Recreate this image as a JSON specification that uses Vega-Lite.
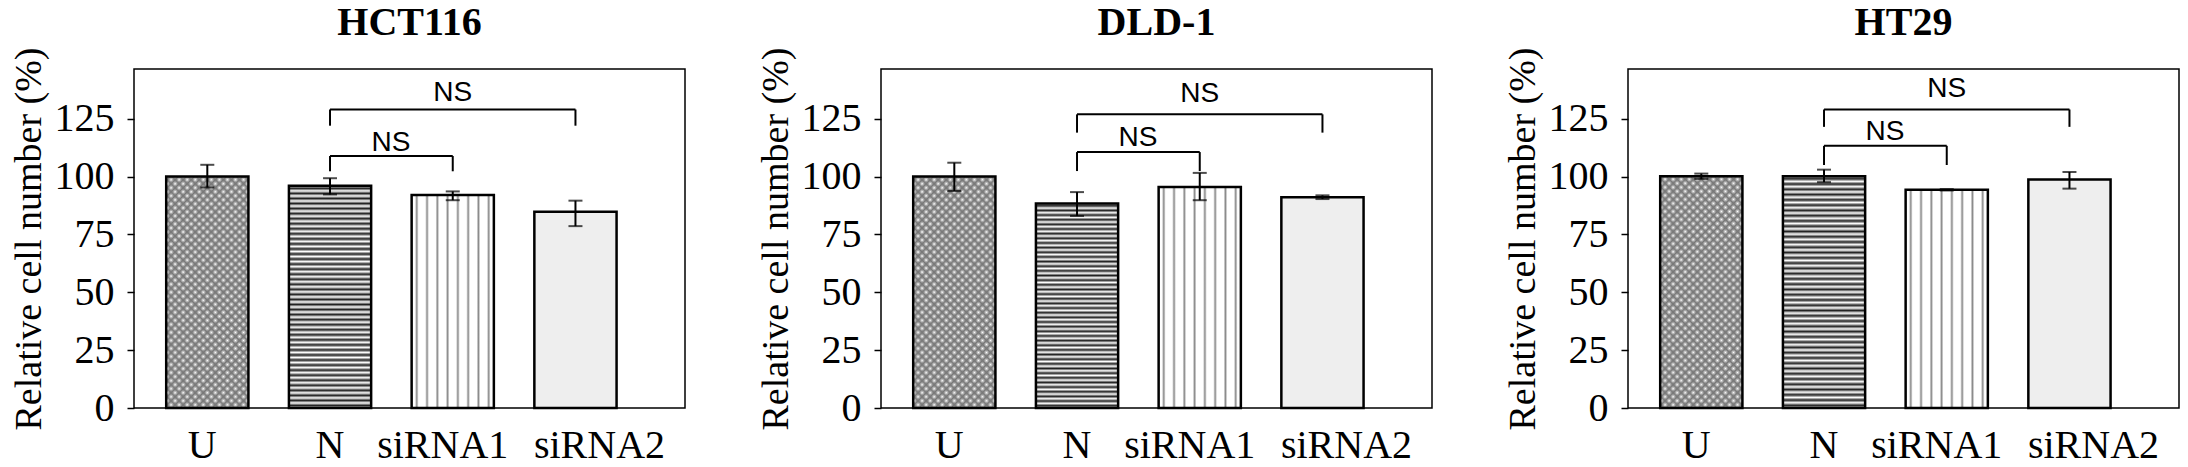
{
  "$schema": "https://vega.github.io/schema/vega-lite/v6.json",
  "padding": {"left": 9, "top": 3, "right": 5, "bottom": 0},
  "background": "white",
  "data": {"values": [
    {"kind": "bar", "cell": "HCT116", "cond": "U", "value": 100, "lo": 95.3, "hi": 105.1},
    {"kind": "bar", "cell": "HCT116", "cond": "N", "value": 96, "lo": 92.3, "hi": 99.3},
    {"kind": "bar", "cell": "HCT116", "cond": "siRNA1", "value": 92, "lo": 89.8, "hi": 93.6},
    {"kind": "bar", "cell": "HCT116", "cond": "siRNA2", "value": 84.8, "lo": 78.6, "hi": 89.6},
    {"kind": "bar", "cell": "DLD-1", "cond": "U", "value": 100, "lo": 93.8, "hi": 106},
    {"kind": "bar", "cell": "DLD-1", "cond": "N", "value": 88.4, "lo": 83, "hi": 93.3},
    {"kind": "bar", "cell": "DLD-1", "cond": "siRNA1", "value": 95.5, "lo": 89.8, "hi": 101.6},
    {"kind": "bar", "cell": "DLD-1", "cond": "siRNA2", "value": 91.1, "lo": 90.3, "hi": 91.9},
    {"kind": "bar", "cell": "HT29", "cond": "U", "value": 100.2, "lo": 99, "hi": 101.3},
    {"kind": "bar", "cell": "HT29", "cond": "N", "value": 100.2, "lo": 97.6, "hi": 103},
    {"kind": "bar", "cell": "HT29", "cond": "siRNA1", "value": 94.3, "lo": 94, "hi": 94.6},
    {"kind": "bar", "cell": "HT29", "cond": "siRNA2", "value": 98.7, "lo": 94.8, "hi": 102},
    {"kind": "br", "cell": "HCT116", "type": "long", "from": "N", "to": "siRNA2", "y": 129, "leg": 122, "label": "NS", "ly": 136.3, "at": "siRNA1"},
    {"kind": "br", "cell": "HCT116", "type": "short", "from": "N", "to": "siRNA1", "y": 108.9, "leg": 102.3, "label": "NS", "ly": 114.5, "at": "N"},
    {"kind": "br", "cell": "DLD-1", "type": "long", "from": "N", "to": "siRNA2", "y": 126.9, "leg": 119, "label": "NS", "ly": 135.7, "at": "siRNA1"},
    {"kind": "br", "cell": "DLD-1", "type": "short", "from": "N", "to": "siRNA1", "y": 110.6, "leg": 102.4, "label": "NS", "ly": 116.6, "at": "N"},
    {"kind": "br", "cell": "HT29", "type": "long", "from": "N", "to": "siRNA2", "y": 129, "leg": 121.5, "label": "NS", "ly": 137.8, "at": "siRNA1"},
    {"kind": "br", "cell": "HT29", "type": "short", "from": "N", "to": "siRNA1", "y": 113.3, "leg": 105, "label": "NS", "ly": 119.3, "at": "N"}
  ]},
  "facet": {"column": {"field": "cell", "type": "nominal", "title": null, "sort": ["HCT116", "DLD-1", "HT29"],
    "header": {"labelFont": "Liberation Serif", "labelFontSize": 40, "labelFontWeight": "bold", "labelColor": "black", "labelPadding": 3,
               "labelExpr": "datum.value === 'HCT116' ? 'HCT116\u00a0\u00a0\u00a0\u00a0\u00a0\u00a0' : (datum.value === 'DLD-1' ? '\u00a0\u00a0DLD-1' : '\u00a0\u00a0\u00a0HT29')"}}},
  "spacing": 70,
  "resolve": {"axis": {"y": "independent", "x": "independent"}},
  "spec": {
    "width": 551, "height": 339,
    "layer": [
      {"transform": [{"filter": "datum.kind === 'bar'"}],
       "mark": {"type": "bar"},
       "encoding": {
         "x": {"field": "cond", "type": "nominal", "title": null, "scale": {"domain": ["U", "N", "siRNA1", "siRNA2"], "paddingInner": 0.33, "paddingOuter": 0.41, "align": 0.32},
               "axis": {"domain": false, "grid": false, "ticks": false, "labelAngle": 0, "labelFont": "Liberation Serif", "labelFontSize": 40, "labelColor": "black", "labelPadding": 17,
                        "labelOffset": {"condition": [{"test": "datum.value === 'siRNA2'", "value": 24}, {"test": "datum.value === 'siRNA1'", "value": -10}, {"test": "datum.value === 'U'", "value": -5}], "value": 0}}},
         "y": {"field": "value", "type": "quantitative", "title": "Relative cell number (%)", "scale": {"domain": [0, 146.5], "nice": false},
               "axis": {"values": [0, 25, 50, 75, 100, 125], "domain": false, "grid": false, "tickColor": "black", "tickSize": 7, "tickWidth": 1.5,
                        "labelFont": "Liberation Serif", "labelFontSize": 40, "labelColor": "black", "labelPadding": 13,
                        "titleFont": "Liberation Serif", "titleFontSize": 38, "titleFontWeight": "normal", "titleColor": "black", "titlePadding": 6}},
         "fill": {"field": "cond", "type": "nominal", "legend": null, "scale": {"domain": ["U", "N", "siRNA1", "siRNA2"], "range": ["#ffffff", "#ffffff", "#ffffff", "#eeeeee"]}}
       }},
      {"transform": [{"filter": "datum.kind === 'bar' && datum.cond === 'U'"}],
       "mark": {"type": "bar", "fill": {"gradient": "linear", "x1": 0, "y1": 0, "x2": 0.427, "y2": 1.203, "stops": [
         {"offset":0,"color":"rgba(120,120,120,0)"},{"offset":0.01282,"color":"rgb(120,120,120)"},{"offset":0.02564,"color":"rgba(120,120,120,0)"},{"offset":0.03846,"color":"rgb(120,120,120)"},{"offset":0.05128,"color":"rgba(120,120,120,0)"},{"offset":0.0641,"color":"rgb(120,120,120)"},{"offset":0.07692,"color":"rgba(120,120,120,0)"},{"offset":0.08974,"color":"rgb(120,120,120)"},{"offset":0.10256,"color":"rgba(120,120,120,0)"},{"offset":0.11538,"color":"rgb(120,120,120)"},{"offset":0.12821,"color":"rgba(120,120,120,0)"},{"offset":0.14103,"color":"rgb(120,120,120)"},{"offset":0.15385,"color":"rgba(120,120,120,0)"},{"offset":0.16667,"color":"rgb(120,120,120)"},{"offset":0.17949,"color":"rgba(120,120,120,0)"},{"offset":0.19231,"color":"rgb(120,120,120)"},{"offset":0.20513,"color":"rgba(120,120,120,0)"},{"offset":0.21795,"color":"rgb(120,120,120)"},{"offset":0.23077,"color":"rgba(120,120,120,0)"},{"offset":0.24359,"color":"rgb(120,120,120)"},{"offset":0.25641,"color":"rgba(120,120,120,0)"},{"offset":0.26923,"color":"rgb(120,120,120)"},{"offset":0.28205,"color":"rgba(120,120,120,0)"},{"offset":0.29487,"color":"rgb(120,120,120)"},{"offset":0.30769,"color":"rgba(120,120,120,0)"},{"offset":0.32051,"color":"rgb(120,120,120)"},{"offset":0.33333,"color":"rgba(120,120,120,0)"},{"offset":0.34615,"color":"rgb(120,120,120)"},{"offset":0.35897,"color":"rgba(120,120,120,0)"},{"offset":0.37179,"color":"rgb(120,120,120)"},{"offset":0.38462,"color":"rgba(120,120,120,0)"},{"offset":0.39744,"color":"rgb(120,120,120)"},{"offset":0.41026,"color":"rgba(120,120,120,0)"},{"offset":0.42308,"color":"rgb(120,120,120)"},{"offset":0.4359,"color":"rgba(120,120,120,0)"},{"offset":0.44872,"color":"rgb(120,120,120)"},{"offset":0.46154,"color":"rgba(120,120,120,0)"},{"offset":0.47436,"color":"rgb(120,120,120)"},{"offset":0.48718,"color":"rgba(120,120,120,0)"},{"offset":0.5,"color":"rgb(120,120,120)"},{"offset":0.51282,"color":"rgba(120,120,120,0)"},{"offset":0.52564,"color":"rgb(120,120,120)"},{"offset":0.53846,"color":"rgba(120,120,120,0)"},{"offset":0.55128,"color":"rgb(120,120,120)"},{"offset":0.5641,"color":"rgba(120,120,120,0)"},{"offset":0.57692,"color":"rgb(120,120,120)"},{"offset":0.58974,"color":"rgba(120,120,120,0)"},{"offset":0.60256,"color":"rgb(120,120,120)"},{"offset":0.61538,"color":"rgba(120,120,120,0)"},{"offset":0.62821,"color":"rgb(120,120,120)"},{"offset":0.64103,"color":"rgba(120,120,120,0)"},{"offset":0.65385,"color":"rgb(120,120,120)"},{"offset":0.66667,"color":"rgba(120,120,120,0)"},{"offset":0.67949,"color":"rgb(120,120,120)"},{"offset":0.69231,"color":"rgba(120,120,120,0)"},{"offset":0.70513,"color":"rgb(120,120,120)"},{"offset":0.71795,"color":"rgba(120,120,120,0)"},{"offset":0.73077,"color":"rgb(120,120,120)"},{"offset":0.74359,"color":"rgba(120,120,120,0)"},{"offset":0.75641,"color":"rgb(120,120,120)"},{"offset":0.76923,"color":"rgba(120,120,120,0)"},{"offset":0.78205,"color":"rgb(120,120,120)"},{"offset":0.79487,"color":"rgba(120,120,120,0)"},{"offset":0.80769,"color":"rgb(120,120,120)"},{"offset":0.82051,"color":"rgba(120,120,120,0)"},{"offset":0.83333,"color":"rgb(120,120,120)"},{"offset":0.84615,"color":"rgba(120,120,120,0)"},{"offset":0.85897,"color":"rgb(120,120,120)"},{"offset":0.87179,"color":"rgba(120,120,120,0)"},{"offset":0.88462,"color":"rgb(120,120,120)"},{"offset":0.89744,"color":"rgba(120,120,120,0)"},{"offset":0.91026,"color":"rgb(120,120,120)"},{"offset":0.92308,"color":"rgba(120,120,120,0)"},{"offset":0.9359,"color":"rgb(120,120,120)"},{"offset":0.94872,"color":"rgba(120,120,120,0)"},{"offset":0.96154,"color":"rgb(120,120,120)"},{"offset":0.97436,"color":"rgba(120,120,120,0)"},{"offset":0.98718,"color":"rgb(120,120,120)"},{"offset":1,"color":"rgba(120,120,120,0)"}]}},
       "encoding": {"x": {"field": "cond", "type": "nominal"}, "y": {"field": "value", "type": "quantitative"}}},
      {"transform": [{"filter": "datum.kind === 'bar' && datum.cond === 'U'"}],
       "mark": {"type": "bar", "fill": {"gradient": "linear", "x1": 1, "y1": 0, "x2": 0.573, "y2": 1.203, "stops": [
         {"offset":0,"color":"rgba(120,120,120,0)"},{"offset":0.01282,"color":"rgb(120,120,120)"},{"offset":0.02564,"color":"rgba(120,120,120,0)"},{"offset":0.03846,"color":"rgb(120,120,120)"},{"offset":0.05128,"color":"rgba(120,120,120,0)"},{"offset":0.0641,"color":"rgb(120,120,120)"},{"offset":0.07692,"color":"rgba(120,120,120,0)"},{"offset":0.08974,"color":"rgb(120,120,120)"},{"offset":0.10256,"color":"rgba(120,120,120,0)"},{"offset":0.11538,"color":"rgb(120,120,120)"},{"offset":0.12821,"color":"rgba(120,120,120,0)"},{"offset":0.14103,"color":"rgb(120,120,120)"},{"offset":0.15385,"color":"rgba(120,120,120,0)"},{"offset":0.16667,"color":"rgb(120,120,120)"},{"offset":0.17949,"color":"rgba(120,120,120,0)"},{"offset":0.19231,"color":"rgb(120,120,120)"},{"offset":0.20513,"color":"rgba(120,120,120,0)"},{"offset":0.21795,"color":"rgb(120,120,120)"},{"offset":0.23077,"color":"rgba(120,120,120,0)"},{"offset":0.24359,"color":"rgb(120,120,120)"},{"offset":0.25641,"color":"rgba(120,120,120,0)"},{"offset":0.26923,"color":"rgb(120,120,120)"},{"offset":0.28205,"color":"rgba(120,120,120,0)"},{"offset":0.29487,"color":"rgb(120,120,120)"},{"offset":0.30769,"color":"rgba(120,120,120,0)"},{"offset":0.32051,"color":"rgb(120,120,120)"},{"offset":0.33333,"color":"rgba(120,120,120,0)"},{"offset":0.34615,"color":"rgb(120,120,120)"},{"offset":0.35897,"color":"rgba(120,120,120,0)"},{"offset":0.37179,"color":"rgb(120,120,120)"},{"offset":0.38462,"color":"rgba(120,120,120,0)"},{"offset":0.39744,"color":"rgb(120,120,120)"},{"offset":0.41026,"color":"rgba(120,120,120,0)"},{"offset":0.42308,"color":"rgb(120,120,120)"},{"offset":0.4359,"color":"rgba(120,120,120,0)"},{"offset":0.44872,"color":"rgb(120,120,120)"},{"offset":0.46154,"color":"rgba(120,120,120,0)"},{"offset":0.47436,"color":"rgb(120,120,120)"},{"offset":0.48718,"color":"rgba(120,120,120,0)"},{"offset":0.5,"color":"rgb(120,120,120)"},{"offset":0.51282,"color":"rgba(120,120,120,0)"},{"offset":0.52564,"color":"rgb(120,120,120)"},{"offset":0.53846,"color":"rgba(120,120,120,0)"},{"offset":0.55128,"color":"rgb(120,120,120)"},{"offset":0.5641,"color":"rgba(120,120,120,0)"},{"offset":0.57692,"color":"rgb(120,120,120)"},{"offset":0.58974,"color":"rgba(120,120,120,0)"},{"offset":0.60256,"color":"rgb(120,120,120)"},{"offset":0.61538,"color":"rgba(120,120,120,0)"},{"offset":0.62821,"color":"rgb(120,120,120)"},{"offset":0.64103,"color":"rgba(120,120,120,0)"},{"offset":0.65385,"color":"rgb(120,120,120)"},{"offset":0.66667,"color":"rgba(120,120,120,0)"},{"offset":0.67949,"color":"rgb(120,120,120)"},{"offset":0.69231,"color":"rgba(120,120,120,0)"},{"offset":0.70513,"color":"rgb(120,120,120)"},{"offset":0.71795,"color":"rgba(120,120,120,0)"},{"offset":0.73077,"color":"rgb(120,120,120)"},{"offset":0.74359,"color":"rgba(120,120,120,0)"},{"offset":0.75641,"color":"rgb(120,120,120)"},{"offset":0.76923,"color":"rgba(120,120,120,0)"},{"offset":0.78205,"color":"rgb(120,120,120)"},{"offset":0.79487,"color":"rgba(120,120,120,0)"},{"offset":0.80769,"color":"rgb(120,120,120)"},{"offset":0.82051,"color":"rgba(120,120,120,0)"},{"offset":0.83333,"color":"rgb(120,120,120)"},{"offset":0.84615,"color":"rgba(120,120,120,0)"},{"offset":0.85897,"color":"rgb(120,120,120)"},{"offset":0.87179,"color":"rgba(120,120,120,0)"},{"offset":0.88462,"color":"rgb(120,120,120)"},{"offset":0.89744,"color":"rgba(120,120,120,0)"},{"offset":0.91026,"color":"rgb(120,120,120)"},{"offset":0.92308,"color":"rgba(120,120,120,0)"},{"offset":0.9359,"color":"rgb(120,120,120)"},{"offset":0.94872,"color":"rgba(120,120,120,0)"},{"offset":0.96154,"color":"rgb(120,120,120)"},{"offset":0.97436,"color":"rgba(120,120,120,0)"},{"offset":0.98718,"color":"rgb(120,120,120)"},{"offset":1,"color":"rgba(120,120,120,0)"}]}},
       "encoding": {"x": {"field": "cond", "type": "nominal"}, "y": {"field": "value", "type": "quantitative"}}},
      {"transform": [{"filter": "datum.kind === 'bar' && datum.cond === 'N'"}],
       "mark": {"type": "bar", "fill": {"gradient": "linear", "x1": 0, "y1": 0, "x2": 0, "y2": 1, "stops": [
         {"offset":0,"color":"#fff"},{"offset":0.01136,"color":"#222"},{"offset":0.02273,"color":"#fff"},{"offset":0.03409,"color":"#222"},{"offset":0.04545,"color":"#fff"},{"offset":0.05682,"color":"#222"},{"offset":0.06818,"color":"#fff"},{"offset":0.07955,"color":"#222"},{"offset":0.09091,"color":"#fff"},{"offset":0.10227,"color":"#222"},{"offset":0.11364,"color":"#fff"},{"offset":0.125,"color":"#222"},{"offset":0.13636,"color":"#fff"},{"offset":0.14773,"color":"#222"},{"offset":0.15909,"color":"#fff"},{"offset":0.17045,"color":"#222"},{"offset":0.18182,"color":"#fff"},{"offset":0.19318,"color":"#222"},{"offset":0.20455,"color":"#fff"},{"offset":0.21591,"color":"#222"},{"offset":0.22727,"color":"#fff"},{"offset":0.23864,"color":"#222"},{"offset":0.25,"color":"#fff"},{"offset":0.26136,"color":"#222"},{"offset":0.27273,"color":"#fff"},{"offset":0.28409,"color":"#222"},{"offset":0.29545,"color":"#fff"},{"offset":0.30682,"color":"#222"},{"offset":0.31818,"color":"#fff"},{"offset":0.32955,"color":"#222"},{"offset":0.34091,"color":"#fff"},{"offset":0.35227,"color":"#222"},{"offset":0.36364,"color":"#fff"},{"offset":0.375,"color":"#222"},{"offset":0.38636,"color":"#fff"},{"offset":0.39773,"color":"#222"},{"offset":0.40909,"color":"#fff"},{"offset":0.42045,"color":"#222"},{"offset":0.43182,"color":"#fff"},{"offset":0.44318,"color":"#222"},{"offset":0.45455,"color":"#fff"},{"offset":0.46591,"color":"#222"},{"offset":0.47727,"color":"#fff"},{"offset":0.48864,"color":"#222"},{"offset":0.5,"color":"#fff"},{"offset":0.51136,"color":"#222"},{"offset":0.52273,"color":"#fff"},{"offset":0.53409,"color":"#222"},{"offset":0.54545,"color":"#fff"},{"offset":0.55682,"color":"#222"},{"offset":0.56818,"color":"#fff"},{"offset":0.57955,"color":"#222"},{"offset":0.59091,"color":"#fff"},{"offset":0.60227,"color":"#222"},{"offset":0.61364,"color":"#fff"},{"offset":0.625,"color":"#222"},{"offset":0.63636,"color":"#fff"},{"offset":0.64773,"color":"#222"},{"offset":0.65909,"color":"#fff"},{"offset":0.67045,"color":"#222"},{"offset":0.68182,"color":"#fff"},{"offset":0.69318,"color":"#222"},{"offset":0.70455,"color":"#fff"},{"offset":0.71591,"color":"#222"},{"offset":0.72727,"color":"#fff"},{"offset":0.73864,"color":"#222"},{"offset":0.75,"color":"#fff"},{"offset":0.76136,"color":"#222"},{"offset":0.77273,"color":"#fff"},{"offset":0.78409,"color":"#222"},{"offset":0.79545,"color":"#fff"},{"offset":0.80682,"color":"#222"},{"offset":0.81818,"color":"#fff"},{"offset":0.82955,"color":"#222"},{"offset":0.84091,"color":"#fff"},{"offset":0.85227,"color":"#222"},{"offset":0.86364,"color":"#fff"},{"offset":0.875,"color":"#222"},{"offset":0.88636,"color":"#fff"},{"offset":0.89773,"color":"#222"},{"offset":0.90909,"color":"#fff"},{"offset":0.92045,"color":"#222"},{"offset":0.93182,"color":"#fff"},{"offset":0.94318,"color":"#222"},{"offset":0.95455,"color":"#fff"},{"offset":0.96591,"color":"#222"},{"offset":0.97727,"color":"#fff"},{"offset":0.98864,"color":"#222"},{"offset":1,"color":"#fff"}]}},
       "encoding": {"x": {"field": "cond", "type": "nominal"}, "y": {"field": "value", "type": "quantitative"}}},
      {"transform": [{"filter": "datum.kind === 'bar' && datum.cond === 'siRNA1'"}],
       "mark": {"type": "bar", "fill": {"gradient": "linear", "x1": 0, "y1": 0, "x2": 1, "y2": 0, "stops": [
         {"offset":0,"color":"#fff"},
         {"offset":0.04,"color":"#fff"},{"offset":0.0625,"color":"#888"},{"offset":0.085,"color":"#fff"},
         {"offset":0.165,"color":"#fff"},{"offset":0.1875,"color":"#888"},{"offset":0.21,"color":"#fff"},
         {"offset":0.29,"color":"#fff"},{"offset":0.3125,"color":"#888"},{"offset":0.335,"color":"#fff"},
         {"offset":0.415,"color":"#fff"},{"offset":0.4375,"color":"#888"},{"offset":0.46,"color":"#fff"},
         {"offset":0.54,"color":"#fff"},{"offset":0.5625,"color":"#888"},{"offset":0.585,"color":"#fff"},
         {"offset":0.665,"color":"#fff"},{"offset":0.6875,"color":"#888"},{"offset":0.71,"color":"#fff"},
         {"offset":0.79,"color":"#fff"},{"offset":0.8125,"color":"#888"},{"offset":0.835,"color":"#fff"},
         {"offset":0.915,"color":"#fff"},{"offset":0.9375,"color":"#888"},{"offset":0.96,"color":"#fff"},
         {"offset":1,"color":"#fff"}]}},
       "encoding": {"x": {"field": "cond", "type": "nominal"}, "y": {"field": "value", "type": "quantitative"}}},
      {"transform": [{"filter": "datum.kind === 'bar'"}],
       "mark": {"type": "bar", "fill": "white", "fillOpacity": 0, "stroke": "black", "strokeWidth": 2.5},
       "encoding": {"x": {"field": "cond", "type": "nominal"}, "y": {"field": "value", "type": "quantitative"}}},
      {"transform": [{"filter": "datum.kind === 'bar'"}],
       "mark": {"type": "rule", "color": "black", "strokeWidth": 2},
       "encoding": {"x": {"field": "cond", "type": "nominal"}, "y": {"field": "lo", "type": "quantitative"}, "y2": {"field": "hi"}}},
      {"transform": [{"filter": "datum.kind === 'bar'"}],
       "mark": {"type": "tick", "color": "black", "size": 14, "thickness": 2},
       "encoding": {"x": {"field": "cond", "type": "nominal"}, "y": {"field": "lo", "type": "quantitative"}}},
      {"transform": [{"filter": "datum.kind === 'bar'"}],
       "mark": {"type": "tick", "color": "black", "size": 14, "thickness": 2},
       "encoding": {"x": {"field": "cond", "type": "nominal"}, "y": {"field": "hi", "type": "quantitative"}}},
      {"transform": [{"filter": "datum.kind === 'br'"}],
       "mark": {"type": "rule", "color": "black", "strokeWidth": 2},
       "encoding": {"x": {"field": "from", "type": "nominal"}, "x2": {"field": "to"}, "y": {"field": "y", "type": "quantitative"}}},
      {"transform": [{"filter": "datum.kind === 'br'"}],
       "mark": {"type": "rule", "color": "black", "strokeWidth": 2},
       "encoding": {"x": {"field": "from", "type": "nominal"}, "y": {"field": "leg", "type": "quantitative"}, "y2": {"field": "y"}}},
      {"transform": [{"filter": "datum.kind === 'br'"}],
       "mark": {"type": "rule", "color": "black", "strokeWidth": 2},
       "encoding": {"x": {"field": "to", "type": "nominal"}, "y": {"field": "leg", "type": "quantitative"}, "y2": {"field": "y"}}},
      {"transform": [{"filter": "datum.kind === 'br' && datum.type === 'long'"}],
       "mark": {"type": "text", "font": "Liberation Sans", "fontSize": 28, "color": "black", "baseline": "middle"},
       "encoding": {"x": {"field": "at", "type": "nominal", "bandPosition": 0.5}, "y": {"field": "ly", "type": "quantitative"}, "text": {"field": "label"}}},
      {"transform": [{"filter": "datum.kind === 'br' && datum.type === 'short'"}],
       "mark": {"type": "text", "font": "Liberation Sans", "fontSize": 28, "color": "black", "baseline": "middle"},
       "encoding": {"x": {"field": "at", "type": "nominal", "bandPosition": 1.24}, "y": {"field": "ly", "type": "quantitative"}, "text": {"field": "label"}}}
    ]
  },
  "config": {
    "view": {"stroke": "black", "strokeWidth": 1.5},
    "font": "Liberation Serif"
  }
}
